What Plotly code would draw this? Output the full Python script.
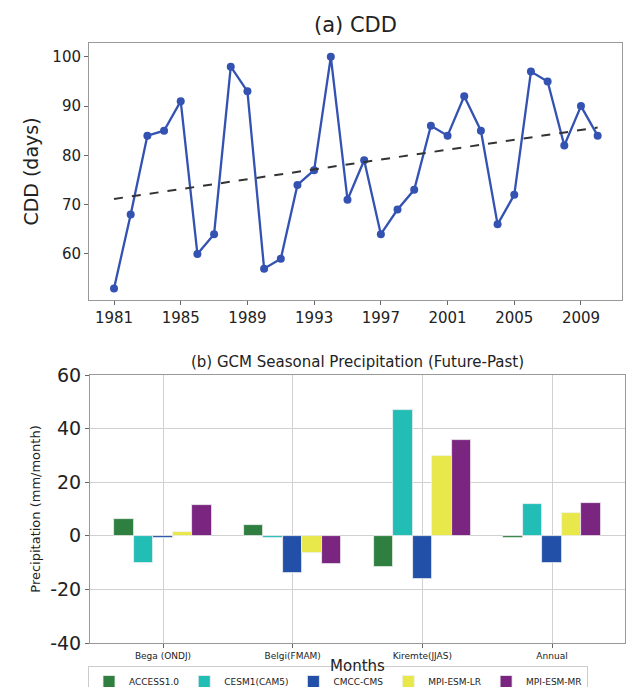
import numpy as np
import plotly.graph_objects as go

# ---- Data: panel (a) ----
years = list(range(1981, 2011))
cdd = [53, 68, 84, 85, 91, 60, 64, 98, 93, 57, 59, 74, 77, 100, 71,
       79, 64, 69, 73, 86, 84, 92, 85, 66, 72, 97, 95, 82, 90, 84]
year_ticks = [1981, 1985, 1989, 1993, 1997, 2001, 2005, 2009]

# ---- Data: panel (b) ----
seasons = ["Bega (ONDJ)", "Belgi(FMAM)", "Kiremte(JJAS)", "Annual"]
models = ["ACCESS1.0", "CESM1(CAM5)", "CMCC-CMS", "MPI-ESM-LR", "MPI-ESM-MR"]
access = [6.1, 4.0, -11.8, -0.8]
cesm = [-10.0, -0.8, 46.8, 12.0]
cmcc = [-0.8, -13.8, -16.3, -10.3]
mpi_lr = [1.4, -6.3, 29.8, 8.4]
mpi_mr = [11.5, -10.7, 35.7, 12.3]
series = [access, cesm, cmcc, mpi_lr, mpi_mr]
colors = ["#2f8040", "#22bdb5", "#2250a8", "#e8e84a", "#7a2580"]
precip_ticks = [-40, -20, 0, 20, 40, 60]
precip_ticktext = ["-40", "-20", "0", "20", "40", "60"]

# trend line (least squares fit of the CDD series)
coef = np.polyfit(years, cdd, 1)
trend = np.polyval(coef, years)

W, H = 629, 687
def px_x(p): return p / W
def px_y(p): return 1 - p / H

FONT = "DejaVu Sans"
fig = go.Figure()

fig.add_trace(go.Scatter(x=years, y=cdd, mode="lines+markers",
                         line=dict(color="#3352b2", width=2.3),
                         marker=dict(color="#3352b2", size=8),
                         xaxis="x", yaxis="y", showlegend=False))
fig.add_trace(go.Scatter(x=years, y=trend, mode="lines",
                         line=dict(color="#333333", width=2, dash="dash"),
                         xaxis="x", yaxis="y", showlegend=False))

n = len(models)
bw = 0.15
xs = np.arange(len(seasons))
for i, (name, vals, c) in enumerate(zip(models, series, colors)):
    fig.add_trace(go.Bar(x=xs + (i - (n - 1) / 2) * bw, y=vals, width=bw,
                         name=name, marker=dict(color=c, line=dict(color="#f0f0f0", width=0.8)),
                         xaxis="x2", yaxis="y2"))

axis_common = dict(showline=True, linecolor="#999999", linewidth=1, mirror=True,
                   ticks="outside", ticklen=4, tickcolor="#666666", zeroline=False)

fig.update_layout(
    width=W, height=H,
    margin=dict(l=0, r=0, t=0, b=0, autoexpand=False),
    paper_bgcolor="white", plot_bgcolor="white",
    font=dict(family=FONT, color="#222222"),
    bargap=0,
    xaxis=dict(domain=[px_x(89), px_x(622)], range=[1979.5, 2011.46],
               tickvals=year_ticks, tickfont=dict(size=15), showgrid=False,
               anchor="y", **axis_common),
    yaxis=dict(domain=[px_y(300), px_y(43)], range=[50.65, 102.8],
               tickvals=[60, 70, 80, 90, 100], tickfont=dict(size=15), showgrid=False,
               title=dict(text="CDD (days)", font=dict(size=19), standoff=8),
               anchor="x", **axis_common),
    xaxis2=dict(domain=[px_x(90), px_x(625)], range=[-0.563, 3.563],
                tickvals=list(xs), ticktext=seasons, tickfont=dict(size=9),
                showgrid=True, gridcolor="#d0d0d0",
                title=dict(text="Months", font=dict(size=15), standoff=0),
                anchor="y2", **axis_common),
    yaxis2=dict(domain=[px_y(643), px_y(375)], range=[-40, 60],
                tickvals=precip_ticks, ticktext=precip_ticktext, tickfont=dict(size=19),
                showgrid=True, gridcolor="#d0d0d0",
                title=dict(text="Precipitation (mm/month)", font=dict(size=13), standoff=6),
                anchor="x2", **axis_common),
    legend=dict(orientation="h", x=px_x(88), xanchor="left", y=px_y(666), yanchor="top",
                font=dict(size=9), bordercolor="#cccccc", borderwidth=1,
                bgcolor="white", itemwidth=30, tracegroupgap=0),
    annotations=[
        dict(text="(a) CDD", x=px_x(355), y=px_y(25), xref="paper", yref="paper",
             showarrow=False, font=dict(size=21, color="#222222"), yanchor="middle"),
        dict(text="(b) GCM Seasonal Precipitation (Future-Past)", x=px_x(357), y=px_y(362),
             xref="paper", yref="paper", showarrow=False,
             font=dict(size=15, color="#222222"), yanchor="middle"),
    ],
)

fig.write_html("out.html", config={"displayModeBar": False},
               post_script="document.body.style.margin='0';document.body.style.padding='0';")
